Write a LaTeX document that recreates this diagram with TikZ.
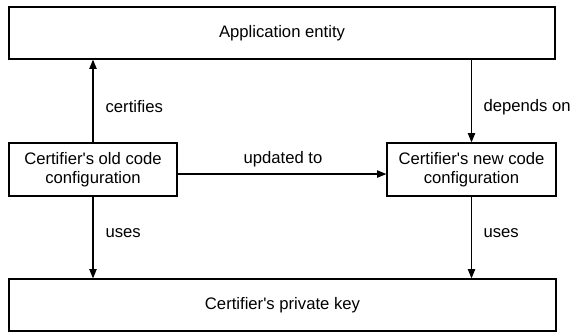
\documentclass[tikz,border=0pt]{standalone}
\usepackage{fontspec}
\setmainfont{Liberation Sans}
\usetikzlibrary{arrows.meta}

\tikzset{every picture/.style={line width=0.9pt}}
\tikzset{
  box/.style={draw, rectangle, inner sep=0pt, align=center,
    font=\fontsize{12.5}{14.3}\selectfont},
  lbl/.style={anchor=west, inner sep=0.75pt,
    font=\fontsize{12.5}{14.3}\selectfont},
  arr/.style={-{Triangle[length=7pt,width=5.5pt]}}
}

\begin{document}
\begin{tikzpicture}[x=0.75pt,y=0.75pt,yscale=-1,xscale=1]
\useasboundingbox (0,0) rectangle (571,333);

% Boxes
\node (app) [box, minimum width=546*0.75pt, minimum height=52*0.75pt] at (282,33) {Application entity};
\node (old) [box, minimum width=168*0.75pt, minimum height=53*0.75pt] at (93,169.5) {Certifier\textquotesingle s old code\\configuration};
\node (new) [box, minimum width=169*0.75pt, minimum height=53*0.75pt] at (471.5,169.5) {Certifier\textquotesingle s new code\\configuration};
\node (key) [box, minimum width=547*0.75pt, minimum height=52*0.75pt] at (282.5,305) {Certifier\textquotesingle s private key};

% Arrows
\draw [arr] (old.north) -- (old.north |- app.south);
\draw [arr] (app.south -| new.north) -- (new.north);
\draw [arr] ([yshift=3.4pt]old.east) -- ([yshift=3.4pt]new.west);
\draw [arr] (old.south) -- (old.south |- key.north);
\draw [arr] (new.south) -- (new.south |- key.north);

% Text Node
\node (certifies) [lbl] at (104,107) {certifies};
% Text Node
\node (dependson) [lbl] at (482,107) {depends on};
% Text Node
\node (updated) [lbl, anchor=center] at (283,159) {updated to};
% Text Node
\node (usesold) [lbl] at (104,233) {uses};
% Text Node
\node (usesnew) [lbl] at (482,233) {uses};

\end{tikzpicture}
\end{document}
